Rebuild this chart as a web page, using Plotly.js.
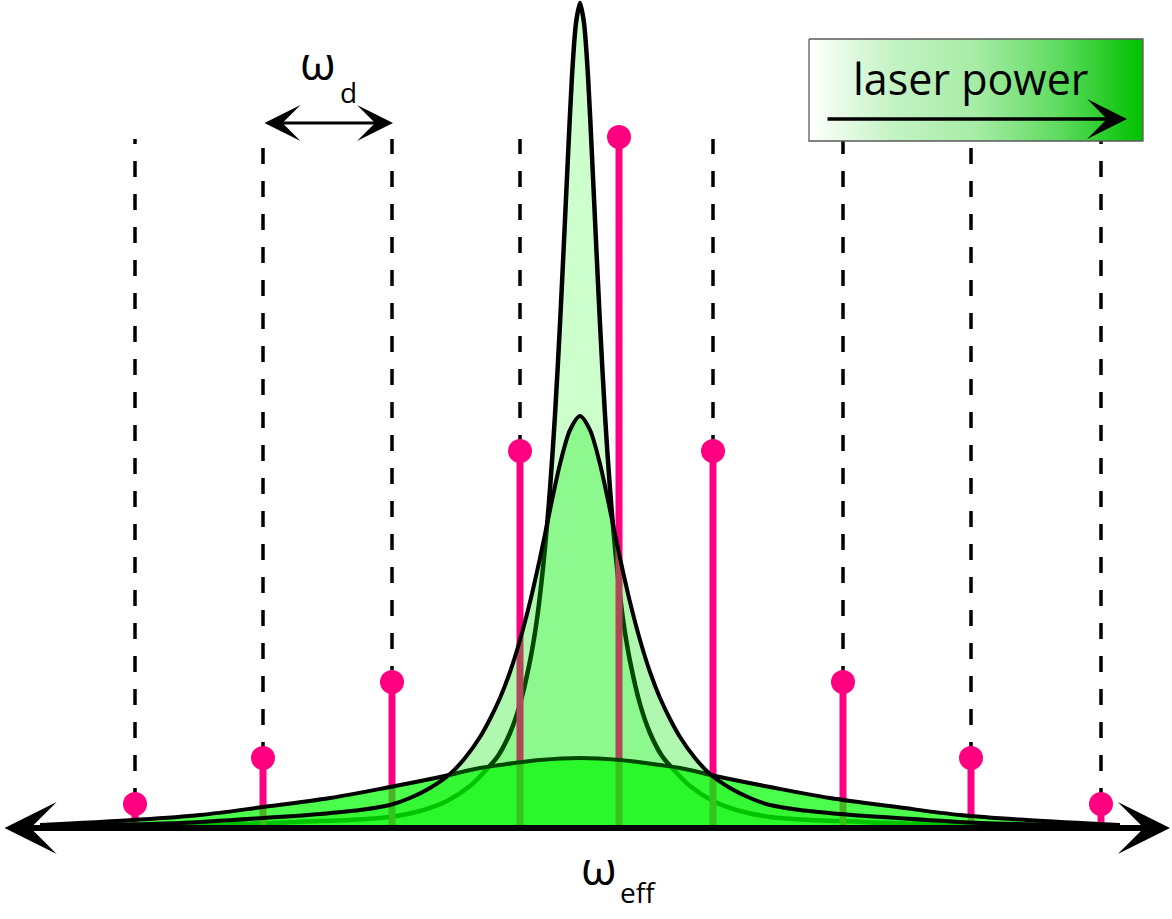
<!DOCTYPE html>
<html>
<head>
<meta charset="utf-8">
<script src="https://cdn.plot.ly/plotly-3.0.1.min.js"></script>
<style>html,body{margin:0;padding:0;background:#fff;}#chart{width:1172px;height:919px;}</style>
</head>
<body>
<div id="chart"></div>
<script>
// ---- data (x in frequency units, y in amplitude units) ----
const stemX = [135, 263, 392, 520, 619, 713, 843, 971, 1101];
const stemH = [22, 68, 144, 375, 689, 375, 144, 68, 22];
const dashTop = 687;

// narrow (low power) resonance
const narrowX = [60, 140, 240, 320, 350, 390, 420, 447, 470, 487, 498, 510, 520, 530, 537, 544, 550, 555, 560, 564, 568, 572, 576, 580,
                 584, 588, 592, 596, 600, 605, 610, 616, 623, 630, 640, 650, 662, 673, 690, 713, 740, 770, 810, 840, 920, 1020, 1100];
const narrowY = [0, 0.5, 2, 5, 6, 9, 15, 25, 40, 57, 70, 93, 122, 165, 207, 268, 337, 411, 502, 585, 670, 750, 803, 823,
                 803, 750, 670, 585, 502, 411, 337, 268, 207, 165, 122, 93, 70, 57, 40, 25, 15, 9, 6, 5, 2, 0.5, 0];

// medium resonance
const mediumX = [60, 100, 180, 263, 320, 360, 390, 410, 430, 450, 465, 480, 490, 500, 510, 520, 530, 540, 550, 560, 570, 580,
                 590, 600, 610, 620, 630, 640, 650, 660, 670, 680, 695, 710, 730, 750, 770, 800, 840, 897, 980, 1060, 1100];
const mediumY = [0, 1, 3, 8, 12, 16, 21, 28, 38, 52, 68, 89, 107, 128, 154, 186, 224, 268, 316, 362, 396, 410,
                 396, 362, 316, 268, 224, 186, 154, 128, 107, 89, 68, 52, 38, 28, 21, 16, 12, 8, 3, 1, 0];

// broad (high power) resonance
const broadX = [40, 133, 200, 263, 330, 390, 440, 480, 500, 540, 580, 620, 660, 680, 720, 770, 830, 897, 960, 1027, 1120];
const broadY = [1, 6, 11, 19, 28, 39, 49, 58, 61, 66, 68, 66, 61, 58, 49, 39, 28, 19, 11, 6, 1];

// labels
const axisLabel = 'ω';
const axisSub = 'eff';
const spacingLabel = 'ω';
const spacingSub = 'd';
const legendText = 'laser power';

// ---- helpers ----
function segments(xs, y0s, y1s) {
  const x = [], y = [];
  xs.forEach((v, i) => { x.push(v, v, null); y.push(y0s[i], y1s[i], null); });
  return {x, y};
}
const dashSeg = segments(stemX, stemH, stemX.map(() => dashTop));
const stemSeg = segments(stemX, stemX.map(() => 0), stemH);

const PINK = '#ff0080';

const box = {x0: 809, x1: 1143, y0: 685, y1: 787};

const traces = [
  { x: narrowX, y: narrowY, type: 'scatter', mode: 'lines', fill: 'tozeroy',
    fillcolor: 'rgba(0,255,0,0.2)', line: {color: '#000', width: 4.5, shape: 'spline', smoothing: 0.8} },
  { x: dashSeg.x, y: dashSeg.y, type: 'scatter', mode: 'lines',
    line: {color: '#000', width: 3.5, dash: '16px,17px'} },
  { x: stemSeg.x, y: stemSeg.y, type: 'scatter', mode: 'lines',
    line: {color: PINK, width: 7} },
  { x: broadX, y: broadY, type: 'scatter', mode: 'lines', fill: 'tozeroy',
    fillcolor: 'rgba(0,255,0,0.7)', line: {color: '#000', width: 4, shape: 'spline', smoothing: 1} },
  { x: mediumX, y: mediumY, type: 'scatter', mode: 'lines', fill: 'tozeroy',
    fillcolor: 'rgba(0,232,0,0.31)', line: {color: '#000', width: 4, shape: 'spline', smoothing: 0.8} },
  { x: stemX, y: stemH, type: 'scatter', mode: 'markers',
    marker: {color: PINK, size: 24, line: {width: 0}} },
  { x: [box.x0, box.x1, box.x1, box.x0, box.x0], y: [box.y1, box.y1, box.y0, box.y0, box.y1],
    type: 'scatter', mode: 'lines', fill: 'toself',
    fillgradient: {type: 'horizontal', colorscale: [[0, '#ffffff'], [0.25, '#c4f3c4'], [0.5, '#a6eca6'], [0.75, '#5edb5e'], [1, '#00c000']]},
    line: {color: '#5a5a5a', width: 1.3} }
];

const FONT = 'Open Sans, Noto Sans, sans-serif';

const annotations = [
  // frequency axis (double arrow)
  { x: 1170, y: -2, ax: 3, ay: -2, xref: 'x', yref: 'y', axref: 'x', ayref: 'y', text: '',
    showarrow: true, arrowside: 'end+start', arrowhead: 3, startarrowhead: 3,
    arrowsize: 1.45, startarrowsize: 1.45, arrowwidth: 6, arrowcolor: '#000' },
  // drive spacing double arrow
  { x: 393, y: 703, ax: 263, ay: 703, xref: 'x', yref: 'y', axref: 'x', ayref: 'y', text: '',
    showarrow: true, arrowside: 'end+start', arrowhead: 3, startarrowhead: 3,
    arrowsize: 2.0, startarrowsize: 2.0, arrowwidth: 3, arrowcolor: '#000' },
  // laser power arrow
  { x: 1127, y: 707, ax: 826, ay: 707, xref: 'x', yref: 'y', axref: 'x', ayref: 'y', text: '',
    showarrow: true, arrowhead: 3, arrowsize: 1.9, arrowwidth: 3.5, arrowcolor: '#000' },
  // texts
  { x: 970, y: 748, xref: 'x', yref: 'y', text: legendText, showarrow: false,
    font: {family: FONT, size: 43, color: '#000'}, xanchor: 'center', yanchor: 'middle' },
  { x: 318, y: 764, xref: 'x', yref: 'y', text: spacingLabel, showarrow: false,
    font: {family: FONT, size: 46, color: '#000'}, xanchor: 'center', yanchor: 'middle' },
  { x: 348, y: 734, xref: 'x', yref: 'y', text: spacingSub, showarrow: false,
    font: {family: FONT, size: 28, color: '#000'}, xanchor: 'center', yanchor: 'middle' },
  { x: 599, y: -41, xref: 'x', yref: 'y', text: axisLabel, showarrow: false,
    font: {family: FONT, size: 46, color: '#000'}, xanchor: 'center', yanchor: 'middle' },
  { x: 638, y: -66, xref: 'x', yref: 'y', text: axisSub, showarrow: false,
    font: {family: FONT, size: 28, color: '#000'}, xanchor: 'center', yanchor: 'middle' }
];

const layout = {
  width: 1172, height: 919,
  margin: {l: 0, r: 0, t: 0, b: 0, pad: 0},
  paper_bgcolor: '#ffffff', plot_bgcolor: '#ffffff',
  showlegend: false,
  xaxis: {range: [0, 1172], visible: false, fixedrange: true},
  yaxis: {range: [-93, 826], visible: false, fixedrange: true},
  annotations: annotations
};

Plotly.newPlot('chart', traces, layout, {staticPlot: true, displayModeBar: false});
</script>
</body>
</html>
